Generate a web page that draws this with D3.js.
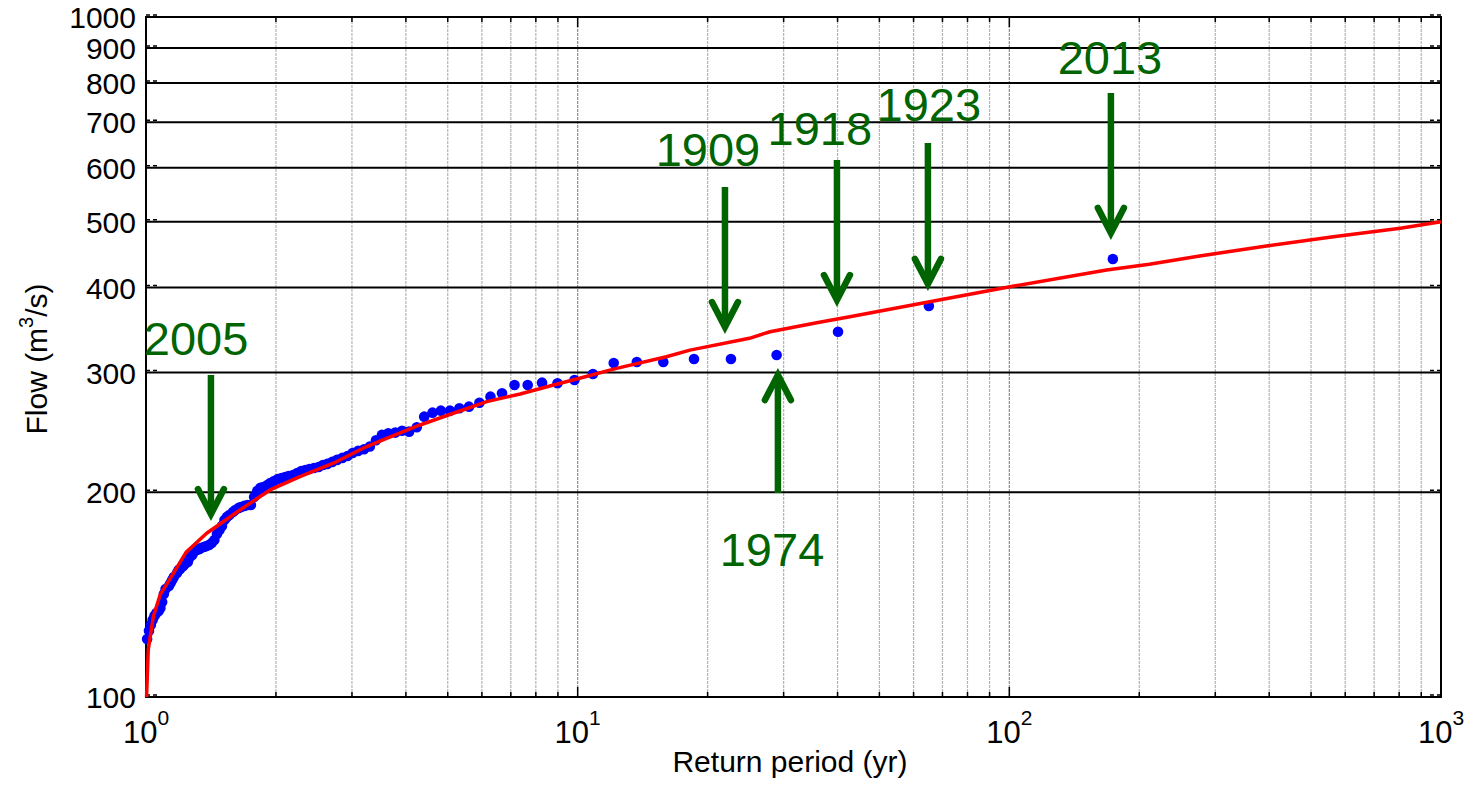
<!DOCTYPE html>
<html>
<head>
<meta charset="utf-8">
<script src="https://cdn.jsdelivr.net/npm/d3@7"></script>
<style>
  body { margin: 0; background: #fff; }
  svg { display: block; font-family: "Liberation Sans", Arial, Helvetica, sans-serif; }
</style>
</head>
<body>
<div id="chart"></div>
<script>
// ---------- data ----------

// observed annual peaks: return period (yr) and flow (m3/s), largest first
const periodT = [
  173.7, 65.1, 40.1, 28.9, 22.65, 18.6, 15.79, 13.71, 12.12, 10.85,
  9.83, 8.98, 8.27, 7.66, 7.14, 6.68, 6.28, 5.92, 5.60, 5.32,
  5.06, 4.82, 4.61, 4.41, 4.24, 4.07, 3.92, 3.78, 3.64, 3.52,
  3.41, 3.30, 3.20, 3.10, 3.01, 2.93, 2.85, 2.77, 2.70, 2.63,
  2.57, 2.51, 2.45, 2.39, 2.34, 2.29, 2.24, 2.19, 2.14, 2.10,
  2.06, 2.02, 1.98, 1.94, 1.91, 1.87, 1.84, 1.81, 1.78, 1.75,
  1.72, 1.69, 1.66, 1.64, 1.61, 1.59, 1.56, 1.54, 1.52, 1.50,
  1.48, 1.46, 1.44, 1.42, 1.40, 1.38, 1.36, 1.34, 1.33, 1.31,
  1.29, 1.28, 1.26, 1.25, 1.23, 1.22, 1.20, 1.19, 1.18, 1.16,
  1.15, 1.14, 1.13, 1.11, 1.10, 1.09, 1.08, 1.07, 1.057, 1.046,
  1.036, 1.026, 1.016, 1.006
];
const flowQ = [
  440.6, 375.8, 344.5, 318.4, 314.1, 314.1, 310.9, 310.9, 309.8, 298.5,
  292.6, 289.3, 289.9, 287.6, 287.6, 279.7, 276.5, 270.9, 267.3, 265.8,
  263.7, 263.7, 261.9, 258.4, 249.3, 245.6, 246.4, 244.8, 244.3, 242.9,
  238.5, 233.5, 231.4, 230.1, 228.5, 226.2, 224.7, 223.2, 221.7, 220.2,
  219.4, 217.9, 217.2, 216.4, 215.7, 215.0, 213.5, 212.1, 211.3, 210.6,
  209.9, 209.2, 207.8, 206.4, 205.0, 203.6, 203.0, 200.9, 196.9, 191.6,
  191.6, 191.0, 190.3, 189.7, 188.4, 187.1, 185.2, 184.0, 182.1, 178.5,
  176.1, 173.7, 170.2, 168.4, 167.3, 166.7, 166.2, 165.6, 165.0, 164.5,
  163.4, 161.7, 160.1, 157.9, 156.9, 155.8, 154.3, 153.7, 152.2, 150.1,
  148.6, 147.1, 145.6, 144.1, 141.7, 137.9, 135.2, 133.8, 132.9, 131.6,
  129.8, 127.6, 125.1, 121.7
];

// fitted frequency curve
const fitT = [1.003, 1.012, 1.040, 1.078, 1.157, 1.238, 1.382, 1.651, 1.938, 2.273,
  2.716, 3.184, 3.608, 4.312, 5.153, 6.158, 7.36, 8.79, 10.1, 12.3,
  16.05, 18.2, 25.0, 27.9, 35.8, 42.7, 65.4, 100.3, 168, 211,
  276, 394, 563, 805, 1000];
const fitQ = [100, 117.3, 131.3, 141.3, 152.0, 163.2, 174.1, 188.4, 201.6, 210.9,
  220.7, 232.2, 240.0, 251.2, 261.4, 271.9, 279.0, 287.6, 294.3, 304.3,
  316.5, 323.7, 336.9, 344.5, 355.1, 362.4, 381.3, 401.2, 424.6, 432.9,
  445.2, 460.5, 475.3, 489.0, 500];

// annotated years: label anchor and arrow (from -> tip), in data units
const noteYears = ['2005', '1909', '1918', '1923', '2013', '1974'];
const noteLabelT = [1.306, 20.04, 36.4, 65.1, 171, 28.2];
const noteLabelQ = [318.4, 603.9, 648.3, 703.3, 824.5, 155.8];
const arrowT = [1.414, 21.94, 39.87, 64.77, 171.9, 29.1];
const arrowFromQ = [297.5, 562.3, 616.2, 652.7, 773.2, 199.5];
const arrowToQ = [185.8, 350.0, 383.5, 405.0, 481.3, 297.5];

// axes
const xMajorTicks = [1, 10, 100, 1000];
const xMajorExp = ['0', '1', '2', '3'];
const xMinorTicks = [2, 3, 4, 5, 6, 7, 8, 9, 20, 30, 40, 50, 60, 70, 80, 90,
  200, 300, 400, 500, 600, 700, 800, 900];
const yTicks = [100, 200, 300, 400, 500, 600, 700, 800, 900, 1000];

// ---------- layout ----------
const width = 1469, height = 795;
const plotL = 146, plotR = 1441, plotT = 17, plotB = 697;
const green = '#006400';

const x = d3.scaleLog().domain([1, 1000]).range([plotL, plotR]);
const y = d3.scaleLog().domain([100, 1000]).range([plotB, plotT]);

const svg = d3.select('#chart').append('svg')
  .attr('width', width).attr('height', height);

// vertical grid (light gray, decades a bit darker)
svg.append('g').selectAll('line')
  .data(xMinorTicks).enter().append('line')
  .attr('x1', d => x(d)).attr('x2', d => x(d))
  .attr('y1', plotT).attr('y2', plotB)
  .attr('stroke', '#b4b4b4').attr('stroke-width', 1.2)
  .attr('stroke-dasharray', '3,1');
svg.append('g').selectAll('line')
  .data([10, 100]).enter().append('line')
  .attr('x1', d => x(d)).attr('x2', d => x(d))
  .attr('y1', plotT).attr('y2', plotB)
  .attr('stroke', '#8c8c8c').attr('stroke-width', 1.2)
  .attr('stroke-dasharray', '3,1');

// horizontal grid lines (solid black)
svg.append('g').selectAll('line')
  .data(yTicks.slice(1, -1)).enter().append('line')
  .attr('x1', plotL).attr('x2', plotR)
  .attr('y1', d => y(d)).attr('y2', d => y(d))
  .attr('stroke', '#000').attr('stroke-width', 2);

// small inward ticks
const ticks = svg.append('g').attr('stroke', '#000').attr('stroke-width', 1.5);
xMinorTicks.forEach(t => {
  ticks.append('line').attr('x1', x(t)).attr('x2', x(t)).attr('y1', plotB).attr('y2', plotB - 5);
  ticks.append('line').attr('x1', x(t)).attr('x2', x(t)).attr('y1', plotT).attr('y2', plotT + 5);
});
xMajorTicks.forEach(t => {
  ticks.append('line').attr('x1', x(t)).attr('x2', x(t)).attr('y1', plotB).attr('y2', plotB - 10);
  ticks.append('line').attr('x1', x(t)).attr('x2', x(t)).attr('y1', plotT).attr('y2', plotT + 10);
});
yTicks.forEach(v => {
  ticks.append('line').attr('x1', plotL).attr('x2', plotL + 12).attr('y1', y(v) - 2).attr('y2', y(v) - 2)
    .attr('stroke-dasharray', '4,3');
  ticks.append('line').attr('x1', plotR).attr('x2', plotR - 12).attr('y1', y(v) - 2).attr('y2', y(v) - 2)
    .attr('stroke-dasharray', '4,3');
});

// frame
svg.append('rect')
  .attr('x', plotL).attr('y', plotT)
  .attr('width', plotR - plotL).attr('height', plotB - plotT)
  .attr('fill', 'none').attr('stroke', '#000').attr('stroke-width', 2);

// observed points
svg.append('g').selectAll('circle')
  .data(periodT.map((t, i) => [t, flowQ[i]])).enter().append('circle')
  .attr('cx', d => x(d[0])).attr('cy', d => y(d[1]))
  .attr('r', 5.3).attr('fill', '#0000ff');

// fitted curve
const line = d3.line().x(d => x(d[0])).y(d => y(d[1]));
svg.append('path')
  .datum(fitT.map((t, i) => [t, fitQ[i]]))
  .attr('d', line)
  .attr('fill', 'none').attr('stroke', '#ff0000')
  .attr('stroke-width', 3.5).attr('stroke-linejoin', 'round');

// arrows + year labels
const notes = svg.append('g');
noteYears.forEach((yr, i) => {
  const ax = x(arrowT[i]);
  const y0 = y(arrowFromQ[i]), y1 = y(arrowToQ[i]);
  const dir = y1 > y0 ? 1 : -1;
  notes.append('line')
    .attr('x1', ax).attr('x2', ax).attr('y1', y0).attr('y2', y1 - dir * 3)
    .attr('stroke', green).attr('stroke-width', 6.5);
  notes.append('path')
    .attr('d', `M${ax - 13},${y1 - dir * 25}L${ax},${y1}L${ax + 13},${y1 - dir * 25}`)
    .attr('fill', 'none').attr('stroke', green).attr('stroke-width', 6.5)
    .attr('stroke-linecap', 'round').attr('stroke-linejoin', 'miter');
  notes.append('text')
    .attr('x', x(noteLabelT[i])).attr('y', y(noteLabelQ[i]))
    .attr('text-anchor', 'middle').attr('font-size', 47)
    .attr('fill', green).text(yr);
});

// y tick labels
svg.append('g').selectAll('text')
  .data(yTicks).enter().append('text')
  .attr('x', plotL - 10).attr('y', d => y(d) + 11)
  .attr('text-anchor', 'end').attr('font-size', 30).attr('fill', '#000')
  .text(d => d);

// x tick labels 10^n
xMajorTicks.forEach((t, i) => {
  const txt = svg.append('text')
    .attr('x', x(t)).attr('y', 743)
    .attr('text-anchor', 'middle').attr('fill', '#000');
  txt.append('tspan').attr('font-size', 31).text('10');
  txt.append('tspan').attr('font-size', 21).attr('dy', -18).text(xMajorExp[i]);
});

// axis titles
svg.append('text')
  .attr('x', 790).attr('y', 772)
  .attr('text-anchor', 'middle').attr('font-size', 30).attr('fill', '#000')
  .text('Return period (yr)');

const yTitle = svg.append('text')
  .attr('transform', 'translate(47,359) rotate(-90)')
  .attr('text-anchor', 'middle').attr('font-size', 30).attr('fill', '#000');
yTitle.append('tspan').text('Flow (m');
yTitle.append('tspan').attr('font-size', 20).attr('dy', -14).text('3');
yTitle.append('tspan').attr('dy', 14).text('/s)');
</script>
</body>
</html>
